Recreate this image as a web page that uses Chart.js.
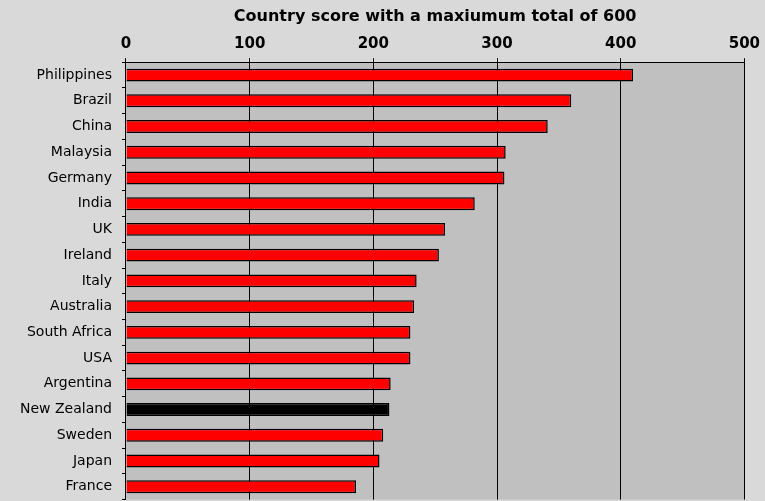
<!DOCTYPE html>
<html>
<head>
<meta charset="utf-8">
<script src="https://cdn.jsdelivr.net/npm/chart.js@4"></script>
<style>
  body { margin: 0; background: #d9d9d9; }
  #wrap { width: 765px; height: 501px; overflow: hidden; }
</style>
</head>
<body>
<div id="wrap"><canvas id="myChart" width="765" height="518"></canvas></div>
<script>
    const countries = ['Philippines', 'Brazil', 'China', 'Malaysia', 'Germany', 'India', 'UK', 'Ireland',
        'Italy', 'Australia', 'South Africa', 'USA', 'Argentina', 'New Zealand', 'Sweden', 'Japan', 'France'];
    const scores = [410, 360, 341, 307, 306, 282, 258, 253, 235, 233, 230, 230, 214, 213, 208, 205, 186];
    const xTicks = [0, 100, 200, 300, 400, 500];
    const highlight = 'New Zealand';

    // grey plot area behind the bars
    const plotBg = {
        id: 'plotBg',
        beforeDraw(chart) {
            const a = chart.chartArea;
            const ctx = chart.ctx;
            ctx.save();
            ctx.fillStyle = '#c0c0c0';
            ctx.fillRect(a.left, a.top, a.right - a.left, a.bottom - a.top);
            ctx.restore();
        }
    };

    const data = {
        labels: countries,
        datasets: [{
            data: scores,
            backgroundColor: countries.map(c => c === highlight ? '#000000' : '#ff0000'),
            borderColor: '#000000',
            borderWidth: 1.5,
            barPercentage: 0.5,
            categoryPercentage: 1
        }]
    };

    const config = {
        type: 'bar',
        data: data,
        plugins: [plotBg],
        options: {
            indexAxis: 'y',
            responsive: false,
            animation: false,
            layout: { padding: { top: 7, right: 17, bottom: 0, left: 10 } },
            plugins: {
                legend: { display: false },
                tooltip: { enabled: false }
            },
            scales: {
                x: {
                    position: 'top',
                    min: 0,
                    max: 500,
                    afterBuildTicks: axis => { axis.ticks = xTicks.map(v => ({ value: v })); },
                    title: {
                        display: true,
                        text: 'Country score with a maxiumum total of 600',
                        color: '#000',
                        font: { family: 'DejaVu Sans', size: 16, weight: 'bold' },
                        padding: { top: 0, bottom: 4 }
                    },
                    ticks: {
                        color: '#000',
                        font: { family: 'DejaVu Sans', size: 15, weight: 'bold' },
                        padding: 5
                    },
                    grid: {
                        color: '#000',
                        lineWidth: 1,
                        tickLength: 4
                    },
                    border: { color: '#000', width: 1 }
                },
                y: {
                    ticks: {
                        color: '#000',
                        font: { family: 'DejaVu Sans', size: 14 },
                        padding: 10,
                        autoSkip: false
                    },
                    grid: {
                        offset: true,
                        drawOnChartArea: false,
                        color: '#000',
                        tickLength: 4
                    },
                    border: { color: '#000', width: 1 }
                }
            }
        }
    };

    const ctx = document.getElementById('myChart').getContext('2d');
    new Chart(ctx, config);
</script>
</body>
</html>
